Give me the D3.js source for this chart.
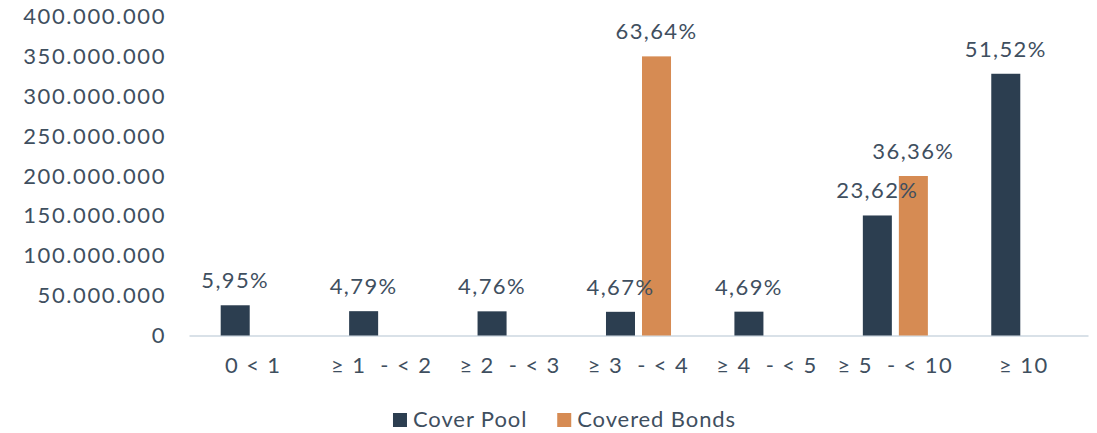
<!DOCTYPE html>
<html>
<head>
<meta charset="utf-8">
<script src="https://cdn.jsdelivr.net/npm/d3@7"></script>
<style>
  body { margin: 0; background: #fff; }
  svg text { font-family: Lato, "Open Sans", sans-serif; font-size: 22px; fill: #3f4f5f; letter-spacing: 1.4px; }
</style>
</head>
<body>
<div id="chart"></div>
<script>
// maturity buckets (years)
const categories = ["0 < 1", "≥ 1  - < 2", "≥ 2  - < 3", "≥ 3  - < 4", "≥ 4  - < 5", "≥ 5  - < 10", "≥ 10"];
const seriesNames = ["Cover Pool", "Covered Bonds"];
const coverPool = [37.9e6, 30.5e6, 30.3e6, 29.7e6, 29.9e6, 150.5e6, 328.2e6];
const coveredBonds = [null, null, null, 350e6, null, 200e6, null];
const coverPoolPct = ["5,95%", "4,79%", "4,76%", "4,67%", "4,69%", "23,62%", "51,52%"];
const coveredBondsPct = [null, null, null, "63,64%", null, "36,36%", null];
const yTicks = [0, 50e6, 100e6, 150e6, 200e6, 250e6, 300e6, 350e6, 400e6];

const colors = ["#2c3e50", "#d68b53"];
const width = 1097, height = 433;

const svg = d3.select("#chart").append("svg")
    .attr("width", width)
    .attr("height", height);

const x = d3.scaleBand()
    .domain(categories)
    .range([189, 1088])
    .padding(0);

const xSub = d3.scaleBand()
    .domain([0, 1])
    .range([0, x.bandwidth()])
    .paddingInner(7 / 36)
    .paddingOuter(0.88);

const y = d3.scaleLinear()
    .domain([0, 400e6])
    .range([335.5, 16.5]);

const locale = d3.formatLocale({ decimal: ",", thousands: ".", grouping: [3], currency: ["", ""] });
const fmt = locale.format(",d");

// y axis
const yAxis = svg.append("g")
    .attr("transform", "translate(189,0)")
    .call(d3.axisLeft(y).tickValues(yTicks).tickFormat(fmt).tickSize(0).tickPadding(23));
yAxis.select(".domain").remove();
yAxis.selectAll("text").attr("fill", null).style("letter-spacing", "1.6px");

// x axis
const xAxis = svg.append("g")
    .attr("transform", "translate(0,335.5)")
    .call(d3.axisBottom(x).tickSize(0).tickPadding(22));
xAxis.select(".domain").attr("stroke", "#d9e1e8").attr("stroke-width", 2);
xAxis.selectAll("text").attr("fill", null).style("white-space", "pre");

const series = [
    { values: coverPool, labels: coverPoolPct },
    { values: coveredBonds, labels: coveredBondsPct }
];

series.forEach((s, si) => {
    const rows = categories.map((c, i) => ({ c, v: s.values[i], l: s.labels[i] })).filter(d => d.v != null);
    svg.append("g").selectAll("rect")
        .data(rows)
        .enter().append("rect")
        .attr("x", d => x(d.c) + xSub(si))
        .attr("y", d => y(d.v))
        .attr("width", xSub.bandwidth())
        .attr("height", d => y(0) - y(d.v))
        .attr("fill", colors[si]);
});

// value labels drawn after bars so they sit on top
series.forEach((s, si) => {
    const rows = categories.map((c, i) => ({ c, v: s.values[i], l: s.labels[i] })).filter(d => d.v != null);
    svg.append("g").selectAll("text")
        .data(rows)
        .enter().append("text")
        .attr("x", d => x(d.c) + xSub(si) + xSub.bandwidth() / 2)
        .attr("y", d => y(d.v) - 17)
        .attr("text-anchor", "middle")
        .text(d => d.l);
});

// legend
const legend = svg.append("g");
let lx = 0;
seriesNames.forEach((name, i) => {
    const item = legend.append("g").attr("transform", `translate(${lx},0)`);
    item.append("rect")
        .attr("x", 0).attr("y", 413)
        .attr("width", 14).attr("height", 14)
        .attr("fill", colors[i]);
    const t = item.append("text")
        .attr("x", 20).attr("y", 426.5)
        .style("letter-spacing", "0.9px")
        .text(name);
    lx += 20 + t.node().getComputedTextLength() + 30;
});
const legendW = lx - 30;
legend.attr("transform", `translate(${564.5 - legendW / 2},0)`);
</script>
</body>
</html>
